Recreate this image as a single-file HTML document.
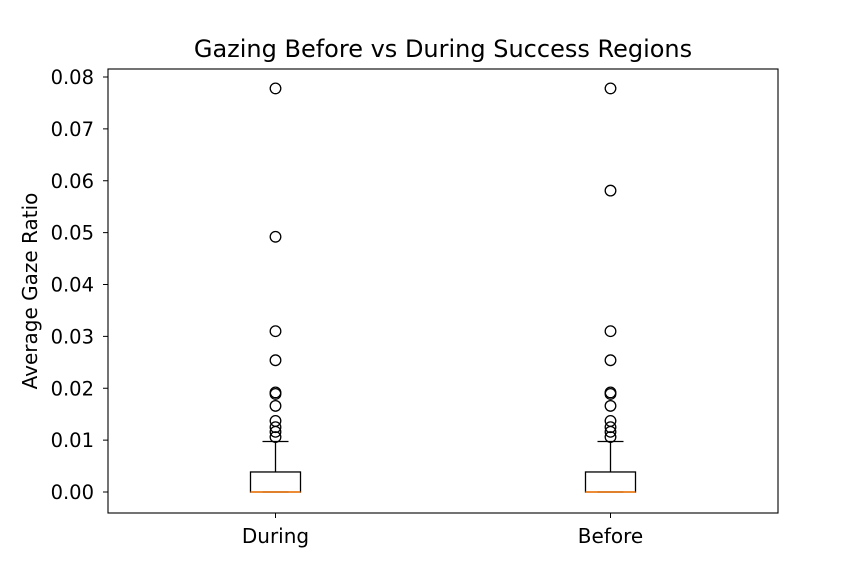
<!DOCTYPE html>
<html><head><meta charset="utf-8">
<style>
html,body{margin:0;padding:0;background:#fff;}
svg{display:block;font-family:"DejaVu Sans","Liberation Sans",sans-serif;}
</style></head>
<body>
<svg id="chart" width="864" height="576" viewBox="0 0 864 576"></svg>
<script>
const categories = ["During", "Before"];
const q1Values = [0, 0];
const medianValues = [0, 0];
const q3Values = [0.00386, 0.00386];
const whiskerLow = [0, 0];
const whiskerHigh = [0.00973, 0.00973];
const outliersDuring = [0.0778, 0.0492, 0.0310, 0.0254, 0.0192, 0.0189, 0.0166, 0.0137, 0.0125, 0.0116, 0.0106];
const outliersBefore = [0.0778, 0.0581, 0.0310, 0.0254, 0.0192, 0.0189, 0.0166, 0.0137, 0.0125, 0.0116, 0.0106];
const yTicks = [0, 0.01, 0.02, 0.03, 0.04, 0.05, 0.06, 0.07, 0.08];
const yTickLabels = ["0.00","0.01","0.02","0.03","0.04","0.05","0.06","0.07","0.08"];

const NS = "http://www.w3.org/2000/svg";
const svg = document.getElementById("chart");
const L = 108, R = 778, T = 69, B = 513;
function y(v){ return 492 - v / 0.01 * 51.875; }
function x(i){ return L + (R - L) * (0.5 + i) / categories.length; }
function mk(tag, attrs, parent){
  const el = document.createElementNS(NS, tag);
  for (const k in attrs) el.setAttribute(k, attrs[k]);
  (parent || svg).appendChild(el);
  return el;
}
let t = mk("text",{x:443,y:57,"text-anchor":"middle","font-size":"24px",fill:"#000"});


t.textContent = "Gazing Before vs During Success Regions";

t = mk("text",{x:37,y:291,"text-anchor":"middle","font-size":"20px",fill:"#000",transform:"rotate(-90 37 291)"});


t.textContent = "Average Gaze Ratio";

yTicks.forEach((v,i)=>{
  const g = mk("g",{});
  
  
  mk("line",{x1:L-5,x2:L,y1:y(v),y2:y(v),stroke:"#000","stroke-width":1},g);
  const tx = mk("text",{x:L-14,y:y(v)+7,"text-anchor":"end","font-size":"19.5px"},g);
  tx.textContent = yTickLabels[i];
});

const outliers = [outliersDuring, outliersBefore];
categories.forEach((c,i)=>{
  const cx = x(i);
  const g = mk("g",{});
  
  
  mk("line",{x1:cx,x2:cx,y1:y(q3Values[i]),y2:y(whiskerHigh[i]),stroke:"#000","stroke-width":1.3},g);
  mk("line",{x1:cx,x2:cx,y1:y(q1Values[i]),y2:y(whiskerLow[i]),stroke:"#000","stroke-width":1.3},g);
  mk("line",{x1:cx-13,x2:cx+13,y1:y(whiskerHigh[i]),y2:y(whiskerHigh[i]),stroke:"#000","stroke-width":1.3},g);
  mk("line",{x1:cx-13,x2:cx+13,y1:y(whiskerLow[i]),y2:y(whiskerLow[i]),stroke:"#000","stroke-width":1.3},g);
  mk("rect",{x:cx-25,y:y(q3Values[i]),width:50,height:y(q1Values[i])-y(q3Values[i]),fill:"none",stroke:"#000","stroke-width":1.3},g);
  mk("line",{x1:cx-25,x2:cx+25,y1:y(medianValues[i]),y2:y(medianValues[i]),stroke:"#ff7f0e","stroke-width":1.5},g);
  outliers[i].forEach(v=>{
    const ci = mk("circle",{cx:cx,cy:y(v),r:5.3,fill:"none",stroke:"#000","stroke-width":1.3},g);
    
    
  });
  mk("line",{x1:cx,x2:cx,y1:B,y2:B+5,stroke:"#000","stroke-width":1},g);
  const lb = mk("text",{x:cx,y:B+30,"text-anchor":"middle","font-size":"20px"});
  
  
  lb.textContent = c;
});
const frame = mk("rect",{x:L,y:T,width:R-L,height:B-T,fill:"none",stroke:"#000","stroke-width":1.1});


</script>
</body></html>
